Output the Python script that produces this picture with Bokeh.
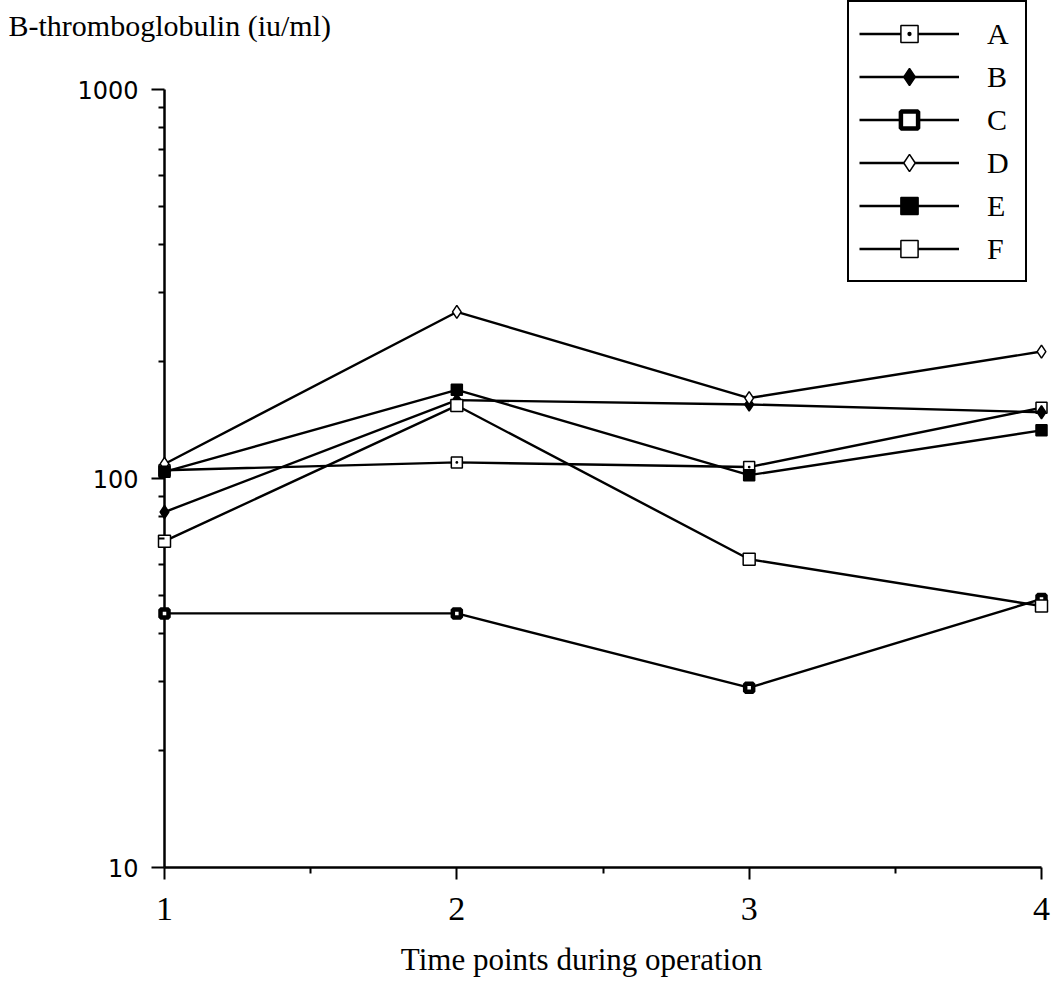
from bokeh.plotting import figure
from bokeh.models import (Range1d, FixedTicker, Legend, LegendItem, Label,
                          PrintfTickFormatter)
from bokeh.embed import file_html
from bokeh.resources import INLINE

# ---- data ----
time_points = [1, 2, 3, 4]
A_values = [105, 110, 107, 152]
B_values = [82, 159, 155, 148]
C_values = [45, 45, 29, 49]
D_values = [109, 268, 161, 212]
E_values = [104, 169, 102, 133]
F_values = [69, 154, 62, 47]
series_names = ["A", "B", "C", "D", "E", "F"]
x_tick_values = [1, 2, 3, 4]
x_minor_ticks = [1.5, 2.5, 3.5]
y_tick_values = [10, 100, 1000]
y_minor_ticks = [20, 30, 40, 50, 60, 70, 80, 90, 200, 300, 400, 500, 600, 700, 800, 900]
y_title = "B-thromboglobulin (iu/ml)"
x_title = "Time points during operation"

SERIF = "Liberation Serif"
SANS = "DejaVu Sans"

# ---- geometry (pixels) ----
W, H = 1055, 982
AX_X = 164          # x pixel of the y axis (x = 1)
AX_Y = 867          # y pixel of the x axis (y = 10)
KX = 877 / 3.0      # px per x unit
KY = 389.0          # px per decade
x_lo = x_tick_values[0] - AX_X / KX
x_hi = x_tick_values[-1] + (W - AX_X - 3 * KX) / KX
y_lo = y_tick_values[0] * 10 ** (-(H - AX_Y) / KY)
y_hi = y_tick_values[-1] * 10 ** ((AX_Y - 2 * KY) / KY)

# the frame covers the whole canvas so that legend and texts are never clipped;
# the axes are drawn offset to the (x=1, y=10) corner with tick offsets.
p = figure(width=W, height=H,
           x_range=Range1d(x_lo, x_hi), y_range=Range1d(y_lo, y_hi),
           y_axis_type="log",
           output_backend="svg", toolbar_location=None,
           min_border_left=0, min_border_right=0,
           min_border_top=0, min_border_bottom=0)
p.background_fill_color = "white"
p.border_fill_color = "white"
p.outline_line_color = None
p.grid.visible = False

# axis lines through the library scales
p.segment(x0=[x_tick_values[0]], y0=[y_tick_values[0]],
          x1=[x_tick_values[-1]], y1=[y_tick_values[0]],
          line_color="black", line_width=2.5)
p.segment(x0=[x_tick_values[0]], y0=[y_tick_values[0]],
          x1=[x_tick_values[0]], y1=[y_tick_values[-1]],
          line_color="black", line_width=2.5)

# x axis (drawn from the canvas bottom edge)
dy = H - AX_Y
xa = p.xaxis[0]
xa.ticker = FixedTicker(ticks=x_tick_values, minor_ticks=x_minor_ticks)
xa.bounds = (x_tick_values[0], x_tick_values[-1])
xa.axis_line_color = None
xa.major_tick_line_width = 2
xa.minor_tick_line_width = 2
xa.major_tick_in = dy
xa.major_tick_out = 12 - dy
xa.minor_tick_in = dy
xa.minor_tick_out = 6 - dy
xa.major_label_text_font = SERIF
xa.major_label_text_font_size = "34px"
xa.major_label_text_color = "black"
xa.major_label_standoff = 18

# y axis (drawn from the canvas left edge)
ya = p.yaxis[0]
ya.ticker = FixedTicker(ticks=y_tick_values, minor_ticks=y_minor_ticks)
ya.formatter = PrintfTickFormatter(format="%d")
ya.bounds = (y_tick_values[0], y_tick_values[-1])
ya.axis_line_color = None
ya.major_tick_line_width = 2
ya.minor_tick_line_width = 2
ya.major_tick_in = AX_X
ya.major_tick_out = 13 - AX_X
ya.minor_tick_in = AX_X
ya.minor_tick_out = 6 - AX_X
ya.major_label_text_font = SANS
ya.major_label_text_font_size = "24px"
ya.major_label_text_color = "black"
ya.major_label_standoff = 13

# ---- series ----
series_values = [A_values, B_values, C_values, D_values, E_values, F_values]
styles = [
    dict(marker="square_dot", size=11, fill_color="white", line_width=1.5),
    dict(marker="diamond", size=13, fill_color="black", line_width=1.5),
    dict(marker="square", size=8, fill_color="white", line_width=4.5),
    dict(marker="diamond", size=13, fill_color="white", line_width=1.5),
    dict(marker="square", size=11, fill_color="black", line_width=1.5),
    dict(marker="square", size=12, fill_color="white", line_width=1.5),
]
items = []
for name, vals, st in zip(series_names, series_values, styles):
    lr = p.line(time_points, vals, line_color="black", line_width=2.4)
    sr = p.scatter(time_points, vals, marker=st["marker"], size=st["size"],
                   fill_color=st["fill_color"], line_color="black",
                   line_width=st["line_width"])
    items.append(LegendItem(label=name, renderers=[lr, sr]))

LEG_LEFT, LEG_BOTTOM = 847, 282
legend = Legend(items=items, location=(LEG_LEFT, H - LEG_BOTTOM),
                glyph_width=100, glyph_height=43, label_height=43,
                label_width=28, label_standoff=28, padding=10, spacing=0,
                margin=0,
                border_line_color="black", border_line_width=2,
                border_line_alpha=1,
                background_fill_color="white", background_fill_alpha=1,
                label_text_font=SERIF, label_text_font_size="30px",
                label_text_color="black")
p.add_layout(legend, "center")

# ---- titles ----
p.add_layout(Label(x=8, y=H - 25, x_units="screen", y_units="screen",
                   text=y_title, text_font=SERIF, text_font_size="30px",
                   text_color="black", text_align="left",
                   text_baseline="alphabetic"))
p.add_layout(Label(x=581, y=H - 959, x_units="screen", y_units="screen",
                   text=x_title, text_font=SERIF, text_font_size="31px",
                   text_color="black", text_align="center",
                   text_baseline="alphabetic"))

open("out.html", "w").write(file_html(p, INLINE))
